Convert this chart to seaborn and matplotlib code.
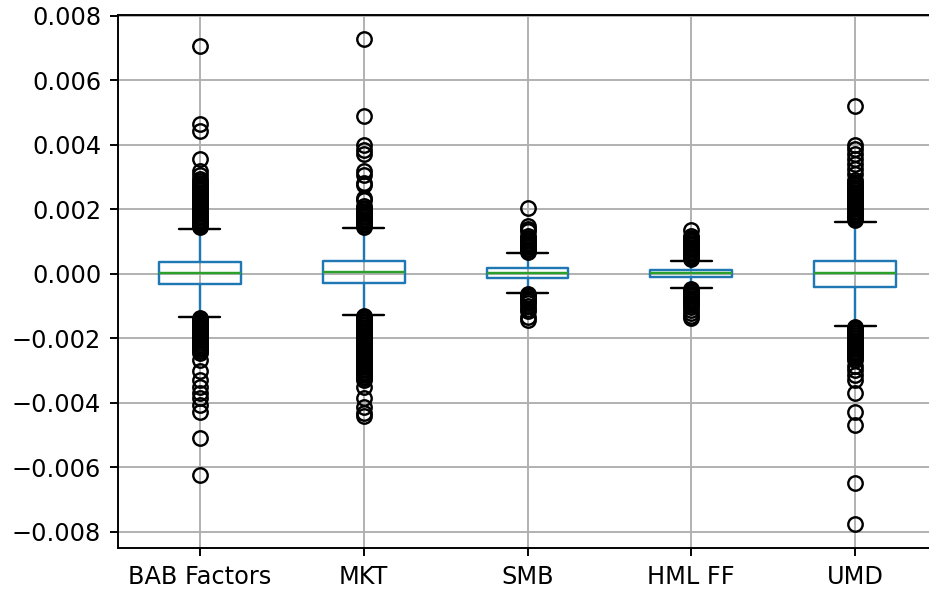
import matplotlib
matplotlib.use("Agg")
import matplotlib.pyplot as plt
import seaborn as sns

categories = ["BAB Factors", "MKT", "SMB", "HML FF", "UMD"]
q1 = [-0.00031, -0.00028, -0.00013, -0.00010, -0.00041]
medians = [0.00003, 0.00004, 0.00001, 0.00001, 0.00002]
q3 = [0.00037, 0.00040, 0.00018, 0.00010, 0.00040]
whisker_low = [-0.00134, -0.00127, -0.00060, -0.00043, -0.00161]
whisker_high = [0.00140, 0.00142, 0.00064, 0.00040, 0.00159]

fliers_bab = [0.00706, 0.00466, 0.00442, 0.00356, 0.00318, 0.00305, 0.00295, 0.00287,
              0.00280, 0.00275, 0.00270, 0.00265, 0.00260, 0.00255, 0.00250, 0.00245,
              0.00240, 0.00235, 0.00230, 0.00225, 0.00220, 0.00215, 0.00210, 0.00205,
              0.00200, 0.00195, 0.00190, 0.00185, 0.00180, 0.00176, 0.00172, 0.00168,
              0.00165, 0.00162, 0.00158, 0.00154, 0.00150, 0.00147, 0.00144,
              -0.00138, -0.00141, -0.00143, -0.00147, -0.00150, -0.00154, -0.00158,
              -0.00162, -0.00165, -0.00168, -0.00172, -0.00176, -0.00180, -0.00185,
              -0.00190, -0.00195, -0.00200, -0.00205, -0.00210, -0.00215, -0.00220,
              -0.00225, -0.00230, -0.00235, -0.00240, -0.00245,
              -0.00267, -0.00303, -0.00329, -0.00350, -0.00370, -0.00385, -0.00407,
              -0.00428, -0.00510, -0.00624]
fliers_mkt = [0.00727, 0.00489, 0.00400, 0.00385, 0.00370, 0.00318, 0.00305, 0.00282,
              0.00275, 0.00235, 0.00228, 0.00209, 0.00205, 0.00200, 0.00195, 0.00190,
              0.00185, 0.00180, 0.00175, 0.00170, 0.00165, 0.00160, 0.00155, 0.00150,
              0.00146,
              -0.00130, -0.00134, -0.00138, -0.00142, -0.00146, -0.00150, -0.00155,
              -0.00160, -0.00165, -0.00170, -0.00175, -0.00180, -0.00185, -0.00190,
              -0.00195, -0.00200, -0.00205, -0.00210, -0.00215, -0.00220, -0.00225,
              -0.00230, -0.00235, -0.00240, -0.00245, -0.00250, -0.00255, -0.00260,
              -0.00265, -0.00270, -0.00275, -0.00280, -0.00285, -0.00290, -0.00295,
              -0.00300, -0.00305, -0.00310, -0.00315, -0.00320, -0.00325, -0.00330,
              -0.00350, -0.00386, -0.00412, -0.00432, -0.00440]
fliers_smb = [0.00204, 0.00147, 0.00140, 0.00131, 0.00116, 0.00111, 0.00106, 0.00101,
              0.00096, 0.00091, 0.00086, 0.00082, 0.00078, 0.00074, 0.00070, 0.00067,
              -0.00063, -0.00066, -0.00070, -0.00074, -0.00078, -0.00081, -0.00085,
              -0.00090, -0.00100, -0.00110, -0.00117, -0.00133, -0.00143]
fliers_hml = [0.00137, 0.00116, 0.00112, 0.00108, 0.00104, 0.00100, 0.00096, 0.00092,
              0.00088, 0.00084, 0.00080, 0.00076, 0.00072, 0.00068, 0.00064, 0.00060,
              0.00056, 0.00052, 0.00049, 0.00046,
              -0.00046, -0.00050, -0.00054, -0.00058, -0.00062, -0.00066, -0.00070,
              -0.00074, -0.00078, -0.00082, -0.00086, -0.00090, -0.00096, -0.00102,
              -0.00112, -0.00122, -0.00132, -0.00138]
fliers_umd = [0.00520, 0.00400, 0.00386, 0.00370, 0.00355, 0.00340, 0.00324, 0.00308,
              0.00290, 0.00285, 0.00280, 0.00275, 0.00270, 0.00265, 0.00260, 0.00255,
              0.00250, 0.00245, 0.00240, 0.00235, 0.00230, 0.00225, 0.00220, 0.00215,
              0.00210, 0.00205, 0.00200, 0.00195, 0.00190, 0.00185, 0.00180, 0.00175,
              0.00170, 0.00166,
              -0.00165, -0.00168, -0.00172, -0.00176, -0.00180, -0.00185, -0.00190,
              -0.00195, -0.00200, -0.00205, -0.00210, -0.00215, -0.00220, -0.00225,
              -0.00230, -0.00235, -0.00240, -0.00245, -0.00250, -0.00255, -0.00260,
              -0.00267, -0.00285, -0.00300, -0.00314, -0.00329, -0.00370, -0.00430,
              -0.00469, -0.00650, -0.00776]
fliers = [fliers_bab, fliers_mkt, fliers_smb, fliers_hml, fliers_umd]

sns.set_style("ticks")
plt.rcParams["font.family"] = ["DejaVu Sans"]
plt.rcParams["font.size"] = 10

DPI = 173
fig = plt.figure(figsize=(929 / DPI, 591 / DPI), dpi=DPI)
ax = fig.add_axes([118 / 929, 43 / 591, 819 / 929, 532.8 / 591])

stats = []
for i, name in enumerate(categories):
    stats.append(dict(label=name, q1=q1[i], med=medians[i], q3=q3[i],
                      whislo=whisker_low[i], whishi=whisker_high[i], fliers=fliers[i]))

ax.bxp(stats, positions=range(1, len(categories) + 1), widths=0.5,
       boxprops=dict(color="#1f77b4", linewidth=1.0),
       whiskerprops=dict(color="#1f77b4", linewidth=1.0),
       capprops=dict(color="black", linewidth=1.0),
       medianprops=dict(color="#2ca02c", linewidth=1.0),
       flierprops=dict(marker="o", markerfacecolor="none", markeredgecolor="black",
                       markersize=6, markeredgewidth=1.0, linestyle="none"))

ax.set_xlim(0.5, 5.5)
ax.set_ylim(-0.00851, 0.00802)
ax.set_yticks([-0.008, -0.006, -0.004, -0.002, 0.0, 0.002, 0.004, 0.006, 0.008])
ax.grid(True, color="#b0b0b0", linewidth=0.8)
ax.set_axisbelow(True)
for s in ax.spines.values():
    s.set_visible(True)
    s.set_color("black")
    s.set_linewidth(0.8)
ax.tick_params(direction="out", length=3.5, width=0.8, colors="black", labelsize=10)

fig.savefig("out.png", dpi=DPI)
